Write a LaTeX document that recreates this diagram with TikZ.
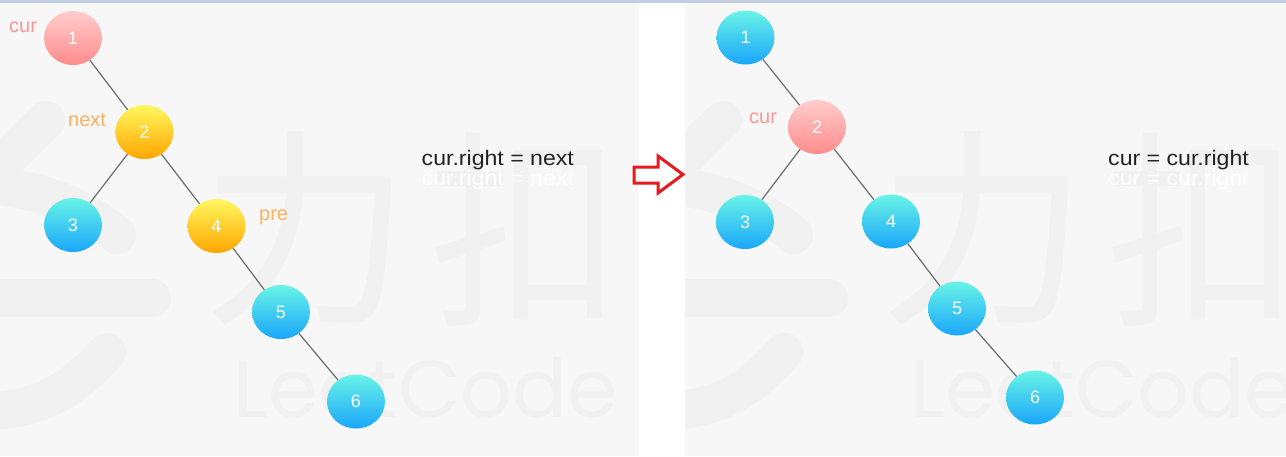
\documentclass[tikz,border=0pt]{standalone}
\usepackage{fontspec}
\setmainfont{Liberation Sans}
\newfontfamily\cjkfont{Noto Sans CJK SC}
\newfontfamily\popfont{Poppins}
\usetikzlibrary{shapes.geometric}
\definecolor{bandc}{RGB}{196,206,226}
\definecolor{panelc}{RGB}{247,247,247}
\definecolor{wmc}{RGB}{241,241,241}
\definecolor{bluetop}{RGB}{104,244,230}
\definecolor{bluebot}{RGB}{26,166,250}
\definecolor{pinktop}{RGB}{255,204,204}
\definecolor{pinkbot}{RGB}{255,140,140}
\definecolor{yeltop}{RGB}{255,248,96}
\definecolor{yelbot}{RGB}{255,166,0}
\definecolor{pinklab}{RGB}{255,150,150}
\definecolor{orangelab}{RGB}{255,176,96}
\definecolor{edgec}{RGB}{108,108,108}
\definecolor{arrowred}{RGB}{230,26,32}
\definecolor{textc}{RGB}{34,34,34}
\tikzset{
  tnode/.style={ellipse, minimum width=58pt, minimum height=54pt, inner sep=0pt,
    text=white, font=\fontsize{18}{18}\selectfont},
  bluenode/.style={tnode, top color=bluetop, bottom color=bluebot},
  pinknode/.style={tnode, top color=pinktop, bottom color=pinkbot},
  yelnode/.style={tnode, top color=yeltop, bottom color=yelbot},
  edge/.style={draw=edgec, line width=1.2pt},
  ptrlab/.style={anchor=base west, inner sep=0pt, font=\fontsize{20}{20}\selectfont},
  stmt/.style={anchor=base west, inner sep=0pt, text=textc, xscale=1.1,
    font=\fontsize{21}{21}\selectfont},
  stmtref/.style={stmt, text=white},
  wmstroke/.style={draw=wmc, line width=38pt, line cap=round},
  wmtext/.style={text=wmc, inner sep=0pt},
}
\newcommand{\drawwatermark}{%
  \draw[wmstroke] (46,120) -- (-45,210);
  \draw[wmstroke] (117,235) .. controls (80,205) and (40,188) .. (-30,183);
  \draw[wmstroke] (-20,298) -- (152,298);
  \draw[wmstroke] (107,352) .. controls (70,392) and (40,412) .. (-30,412);
  \node[wmtext, font=\cjkfont\fontsize{210}{210}\selectfont, xscale=1.0] (wmli) at (306,228) {力};
  \node[wmtext, font=\cjkfont\fontsize{210}{210}\selectfont, xscale=0.92] (wmkou) at (526,230) {扣};
  \node[wmtext, anchor=base west, font=\popfont\fontsize{81}{81}\selectfont] (wmlc) at (233,417) {LeetCode};
}
\begin{document}
\begin{tikzpicture}[x=1pt,y=-1pt]
\useasboundingbox (0,0) rectangle (1286,456);
\fill[white] (0,0) rectangle (1286,456);
\fill[bandc] (0,0) rectangle (1286,3);
\fill[panelc] (0,3) rectangle (639,456);
\fill[panelc] (685,3) rectangle (1286,456);
% watermarks
\begin{scope}
  \clip (0,3) rectangle (639,456);
  \drawwatermark
\end{scope}
\begin{scope}
  \clip (685,3) rectangle (1286,456);
  \begin{scope}[shift={(677,0)}]
    \drawwatermark
  \end{scope}
\end{scope}
% left tree
\node[pinknode] (a1) at (73,38) {1};
\node[yelnode]  (a2) at (144.5,132) {2};
\node[bluenode] (a3) at (73,225) {3};
\node[yelnode]  (a4) at (216.5,226) {4};
\node[bluenode] (a5) at (281,312) {5};
\node[bluenode] (a6) at (356,401.5) {6};
\draw[edge] (a1) -- (a2);
\draw[edge] (a2) -- (a3);
\draw[edge] (a2) -- (a4);
\draw[edge] (a4) -- (a5);
\draw[edge] (a5) -- (a6);
\node[ptrlab, text=pinklab] (acur) at (9,32) {cur};
\node[ptrlab, text=orangelab] (anext) at (68,126) {next};
\node[ptrlab, text=orangelab] (apre) at (259,220) {pre};
\node[stmtref] (astmtr) at (421.5,185) {cur.right = next};
\node[stmt] (astmt) at (421.5,165) {cur.right = next};
% right tree
\node[bluenode] (b1) at (745.5,37.5) {1};
\node[pinknode] (b2) at (817,127) {2};
\node[bluenode] (b3) at (745,222) {3};
\node[bluenode] (b4) at (891,221.5) {4};
\node[bluenode] (b5) at (957,308.5) {5};
\node[bluenode] (b6) at (1035,397.5) {6};
\draw[edge] (b1) -- (b2);
\draw[edge] (b2) -- (b3);
\draw[edge] (b2) -- (b4);
\draw[edge] (b4) -- (b5);
\draw[edge] (b5) -- (b6);
\node[ptrlab, text=pinklab] (bcur) at (749,123) {cur};
\node[stmtref] (bstmtr) at (1108,185) {cur = cur.right};
\node[stmt] (bstmt) at (1108,165) {cur = cur.right};
% hollow red arrow
\draw[draw=arrowred, line width=3pt, line join=miter]
  (634,167) -- (658,167) -- (658,156) -- (683,174.5) -- (658,193) -- (658,183) -- (634,183) -- cycle;
\end{tikzpicture}
\end{document}
